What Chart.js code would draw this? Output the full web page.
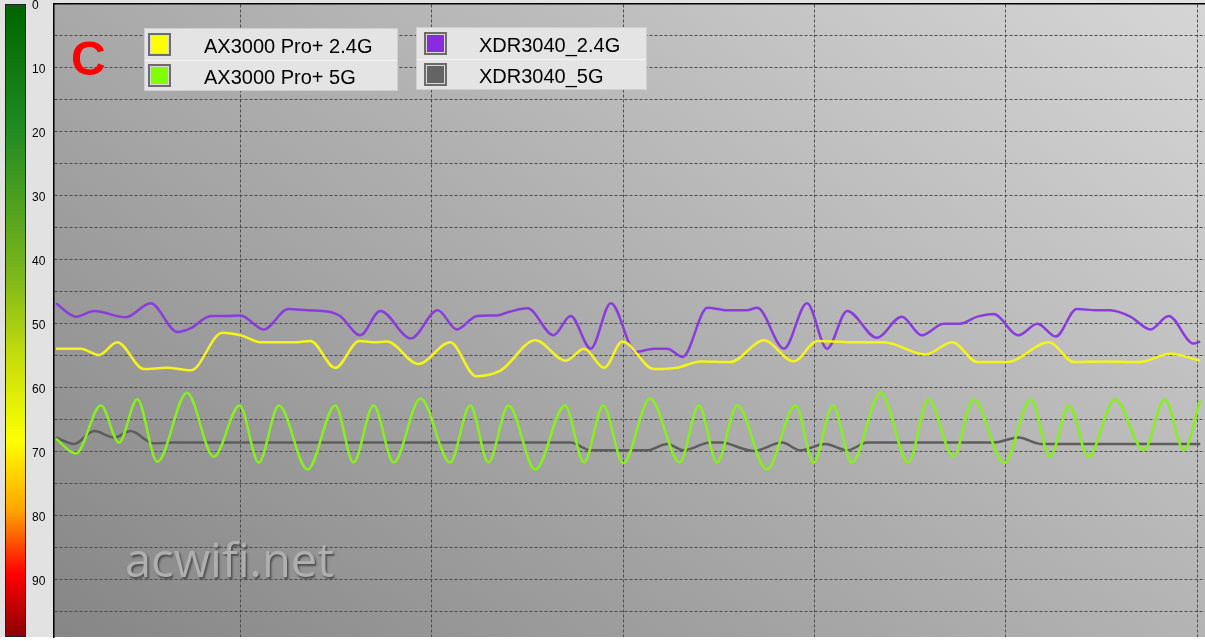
<!DOCTYPE html>
<html>
<head>
<meta charset="utf-8">
<script src="https://cdn.jsdelivr.net/npm/chart.js@4.4.0/dist/chart.umd.min.js"></script>
<style>
  html, body { margin: 0; padding: 0; background: #fff; }
  #wrap { width: 1205px; height: 641px; }
</style>
</head>
<body>
<div id="wrap"><canvas id="chart" width="1205" height="641"></canvas></div>
<script>
// signal scale ticks (labels only every 10, grid every 5)
const yLabels = [0, 10, 20, 30, 40, 50, 60, 70, 80, 90];
const xGridAt = [20, 40, 60, 80, 100, 120];

// AX3000 Pro+ 2.4G
const ax24_t = [0.7,3.3,5.2,7.1,9.9,12.3,14.8,18.1,20.0,22.1,25.9,27.3,29.9,32.4,33.9,35.3,38.6,41.9,44.6,47.2,50.8,54.0,55.9,58.0,59.9,63.2,65.6,68.1,71.2,74.7,77.8,80.3,83.7,87.2,91.6,94.4,97.0,100.1,104.5,107.1,109.9,114.0,117.2,120.3];
const ax24_v = [53.9,53.9,54.9,52.9,57.1,56.9,57.3,51.4,51.8,52.9,52.9,52.7,56.9,52.7,52.9,52.8,56.3,52.9,58.2,57.3,52.6,55.8,53.9,56.9,52.8,57.1,56.9,55.9,56.0,52.6,55.9,52.7,52.9,52.9,54.8,52.9,56.0,56.0,52.9,56.0,55.9,56.0,54.7,55.8];

// AX3000 Pro+ 5G
const ax5_t = [0.7,2.8,5.4,7.3,9.2,11.3,14.4,17.2,19.9,21.9,24.0,27.0,29.9,31.8,33.9,36.0,38.8,41.9,44.0,45.9,48.0,50.8,53.9,55.9,57.9,60.0,62.8,65.9,67.9,69.8,71.9,75.0,78.0,79.9,81.9,83.9,86.9,89.8,91.9,94.5,96.6,99.8,102.6,104.6,106.6,108.6,111.4,114.4,116.6,118.6,120.3];
const ax5_v = [68.0,70.3,62.8,68.6,61.8,71.6,60.8,70.8,62.8,71.7,62.8,72.8,62.8,71.7,62.8,71.7,61.7,71.7,62.8,71.7,62.8,72.8,62.8,71.7,62.8,71.8,61.7,71.7,62.8,71.7,62.8,72.8,62.8,71.7,62.8,71.7,60.8,71.7,61.8,70.8,61.8,71.8,61.8,70.8,62.8,70.8,61.8,69.8,61.8,69.8,62.0];

// XDR3040_2.4G
const xdr24_t = [0.7,2.8,4.7,8.0,10.6,13.4,14.8,16.9,18.6,20.0,22.4,25.0,27.0,29.1,30.4,32.5,34.6,37.8,40.6,42.6,44.7,46.8,48.2,50.0,52.7,54.5,56.6,58.7,61.3,63.2,64.6,66.2,68.8,70.9,72.9,74.0,76.8,79.2,81.3,83.4,86.5,89.1,91.2,93.5,95.2,97.0,98.7,101.3,103.3,105.2,107.4,109.5,110.9,113.0,115.1,117.0,119.6,120.3];
const xdr24_v = [46.8,48.9,48.0,49.0,46.8,51.3,50.7,48.8,48.8,48.7,50.9,47.7,47.9,48.1,48.8,51.8,48.0,52.3,47.9,50.9,48.8,48.7,48.1,47.6,51.8,48.8,53.9,46.8,54.4,53.9,53.9,55.2,47.5,47.9,47.9,47.5,53.9,46.8,53.9,48.0,52.2,48.9,51.8,50.0,50.0,48.9,48.5,51.8,50.0,52.0,47.7,47.9,47.9,48.9,50.9,48.8,53.1,52.8];

// XDR3040_5G
const xdr5_t = [0.7,2.6,4.7,6.8,8.5,10.9,13.0,54.5,56.6,62.5,64.6,66.3,69.1,70.2,73.6,76.6,78.5,81.1,83.4,85.5,98.7,101.3,103.6,120.3];
const xdr5_v = [67.8,68.8,66.8,67.8,66.8,68.7,68.6,68.6,69.8,69.8,68.8,69.8,68.6,68.6,69.9,68.6,69.8,68.8,69.8,68.6,68.6,67.8,68.8,68.8];

const seriesNames = ['AX3000 Pro+ 2.4G', 'AX3000 Pro+ 5G', 'XDR3040_2.4G', 'XDR3040_5G'];
const seriesColors = ['#ffff00', '#7fff00', '#8a2be2', '#646464'];
const lineColors = ['#f4f41c', '#86f01c', '#8a3ddc', '#5e5e5e'];

const toPoints = (t, v) => t.map((x, i) => ({ x, y: v[i] }));
const allSeries = [[ax24_t, ax24_v], [ax5_t, ax5_v], [xdr24_t, xdr24_v], [xdr5_t, xdr5_v]];

const datasets = allSeries.map(([t, v], i) => ({
  label: seriesNames[i],
  data: toPoints(t, v),
  borderColor: lineColors[i],
  swatch: seriesColors[i]
}));

const FONT = '"Liberation Sans", Arial, sans-serif';

// page background, plot gradient, colour scale bar
const backdrop = {
  id: 'backdrop',
  beforeDraw(chart) {
    const { ctx, chartArea: a, scales: { y } } = chart;
    ctx.save();
    ctx.fillStyle = '#e2e2e2';
    ctx.fillRect(0, 0, chart.width, a.bottom);
    ctx.fillStyle = '#ffffff';
    ctx.fillRect(0, a.bottom, chart.width, chart.height - a.bottom);

    // lighter towards the top right
    const g = ctx.createLinearGradient(a.left, a.bottom, a.left + 694, a.bottom - 961);
    g.addColorStop(0, '#868686');
    g.addColorStop(1, '#d6d6d6');
    ctx.fillStyle = g;
    ctx.fillRect(a.left, a.top, a.right - a.left, a.bottom - a.top);

    const top = y.getPixelForValue(0), bot = y.getPixelForValue(99);
    const cb = ctx.createLinearGradient(0, top, 0, bot);
    cb.addColorStop(0, '#006400');
    cb.addColorStop(0.2, '#228b22');
    cb.addColorStop(0.42, '#78b41a');
    cb.addColorStop(0.56, '#c6de0c');
    cb.addColorStop(0.69, '#ffff00');
    cb.addColorStop(0.8, '#ffa500');
    cb.addColorStop(0.9, '#ff0000');
    cb.addColorStop(1, '#8b0000');
    ctx.fillStyle = cb;
    ctx.fillRect(5, top, 20, bot - top);
    ctx.strokeStyle = '#222';
    ctx.lineWidth = 1;
    ctx.strokeRect(5.5, top + 0.5, 20, bot - top - 1);
    ctx.restore();
  },
  beforeDatasetsDraw(chart) {
    const { ctx } = chart;
    ctx.save();
    ctx.font = '47px "Open Sans", sans-serif';
    ctx.textBaseline = 'alphabetic';
    ctx.shadowColor = 'rgba(60,60,60,0.8)';
    ctx.shadowOffsetX = 1.5;
    ctx.shadowOffsetY = 1.5;
    ctx.shadowBlur = 2;
    ctx.fillStyle = '#afafaf';
    ctx.fillText('acwifi.net', 125, 577);
    ctx.restore();
  }
};

// "C" mark and the two legend boxes
const overlay = {
  id: 'overlay',
  afterDraw(chart) {
    const { ctx } = chart;
    ctx.save();
    ctx.fillStyle = '#ff0000';
    ctx.font = 'bold 48px ' + FONT;
    ctx.fillText('C', 71, 75);

    const boxes = [
      { x: 144, y: 28, w: 254, h: 63, sx: 148, tx: 204, items: [0, 1] },
      { x: 416, y: 27, w: 231, h: 63, sx: 424, tx: 479, items: [2, 3] }
    ];
    ctx.font = '20px ' + FONT;
    boxes.forEach(b => {
      ctx.fillStyle = '#e4e4e4';
      ctx.fillRect(b.x, b.y, b.w, b.h);
      ctx.strokeStyle = '#f6f6f6';
      ctx.lineWidth = 1;
      ctx.beginPath();
      ctx.moveTo(b.x, b.y + 32.5);
      ctx.lineTo(b.x + b.w, b.y + 32.5);
      ctx.stroke();
      ctx.strokeStyle = '#cfcfcf';
      ctx.strokeRect(b.x + 0.5, b.y + 0.5, b.w - 1, b.h - 1);
      b.items.forEach((di, r) => {
        const ds = chart.data.datasets[di];
        const sy = b.y + 5 + r * 31;
        ctx.fillStyle = '#6c6c6c';
        ctx.fillRect(b.sx, sy, 23, 23);
        ctx.fillStyle = '#d8d8d8';
        ctx.fillRect(b.sx + 2, sy + 2, 19, 19);
        ctx.fillStyle = ds.swatch;
        ctx.fillRect(b.sx + 3, sy + 3, 17, 17);
        ctx.fillStyle = '#000';
        ctx.fillText(ds.label, b.tx, b.y + 25 + r * 31);
      });
    });
    ctx.restore();
  }
};

new Chart(document.getElementById('chart'), {
  type: 'line',
  data: { datasets },
  options: {
    responsive: false,
    animation: false,
    layout: { padding: { left: 32, top: 4, right: 0, bottom: 4 } },
    elements: {
      point: { radius: 0 },
      line: { borderWidth: 2.5, cubicInterpolationMode: 'monotone' }
    },
    plugins: {
      legend: { display: false },
      tooltip: { enabled: false }
    },
    scales: {
      x: {
        type: 'linear',
        position: 'top',
        min: 0.5,
        max: 120.8,
        afterBuildTicks: s => { s.ticks = xGridAt.map(v => ({ value: v })); },
        afterFit: s => { s.height = 0; s.paddingLeft = 0; s.paddingRight = 0; },
        ticks: { display: false },
        grid: { color: '#4c4c4c', lineWidth: 1, drawTicks: false },
        border: { display: true, color: '#000', width: 1.5, dash: [3, 2] }
      },
      y: {
        reverse: true,
        min: 0,
        max: 99,
        afterFit: s => { s.width = 22; s.paddingTop = 0; s.paddingBottom = 0; },
        ticks: {
          stepSize: 5,
          includeBounds: false,
          crossAlign: 'far',
          padding: 0,
          labelOffset: 2,
          color: '#000',
          font: { family: FONT, size: 12 },
          callback: v => yLabels.includes(v) ? String(v) : ''
        },
        grid: {
          color: c => (c.tick && c.tick.value === 0) ? 'rgba(0,0,0,0)' : '#4c4c4c',
          lineWidth: 1,
          drawTicks: false
        },
        border: { display: true, color: '#000', width: 1.5, dash: [3, 2] }
      }
    }
  },
  plugins: [backdrop, overlay]
});
</script>
</body>
</html>
